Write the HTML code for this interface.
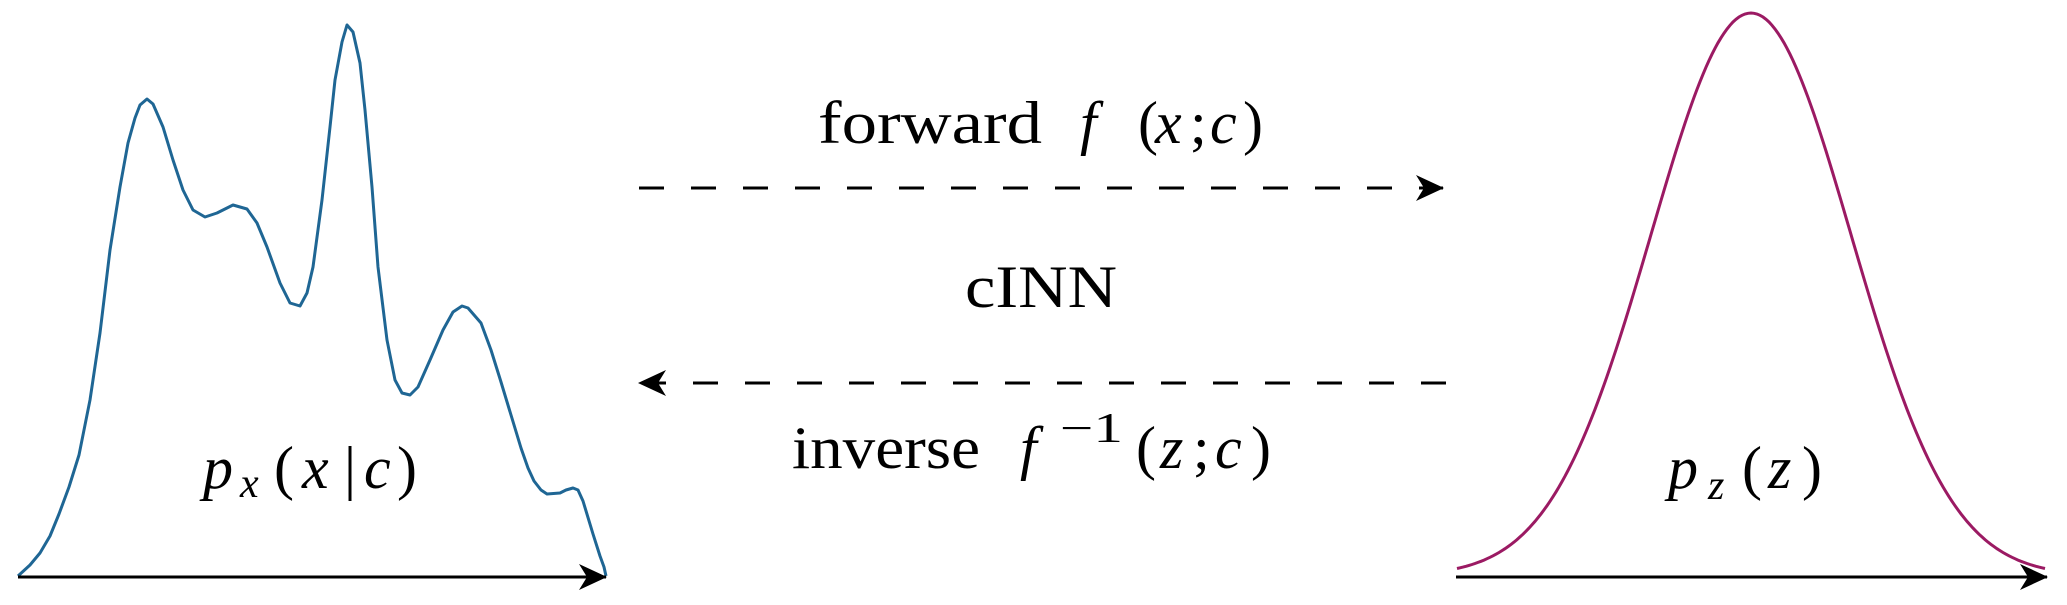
<!DOCTYPE html>
<html><head><meta charset="utf-8"><style>
html,body{margin:0;padding:0;background:#fff;width:2067px;height:605px;overflow:hidden}
text{font-family:"Liberation Serif",serif;fill:#000}
.m{font-style:italic}
</style></head><body>
<svg width="2067" height="605" viewBox="0 0 2067 605" xmlns="http://www.w3.org/2000/svg">
<defs>
<marker id="ah" viewBox="0 0 28 26" refX="27" refY="13" markerWidth="28" markerHeight="26" markerUnits="userSpaceOnUse" orient="auto">
<path d="M0,0 L28,13 L0,26 L8,13 Z" fill="#000"/>
</marker>
</defs>
<polyline fill="none" stroke="#1f6694" stroke-width="3" stroke-linejoin="round" points="18,576 30,565 40,553 50,536 59,514 69,487 79,455 90,400 100,333 110,250 120,187 128,143 135,118 140,105 147,99 153,104 163,127 173,160 183,190 193,210 205,217 217,213 233,205 247,209 257,223 267,247 280,283 290,303 300,306 307,293 313,267 322,200 330,127 335,80 342,42 347,25 353,32 360,63 365,110 372,187 378,267 387,340 395,380 402,393 410,395 418,387 430,360 443,330 453,312 462,306 468,308 481,323 491,350 501,382 511,415 521,448 528,468 534,481 541,490 547,494 560,493 566,490 573,488 578,490 583,501 593,534 600,556 604,567 606,576"/>
<line x1="18" y1="577" x2="606" y2="577" stroke="#000" stroke-width="3" marker-end="url(#ah)"/>
<path id="g" fill="none" stroke="#9b1a63" stroke-width="3"/>
<line x1="1456" y1="577" x2="2047" y2="577" stroke="#000" stroke-width="3" marker-end="url(#ah)"/>
<line x1="639" y1="188" x2="1443" y2="188" stroke="#000" stroke-width="3" stroke-dasharray="25 27" marker-end="url(#ah)"/>
<line x1="1446" y1="383" x2="639" y2="383" stroke="#000" stroke-width="3" stroke-dasharray="25 27" marker-end="url(#ah)"/>
<text x="818" y="143" font-size="60" textLength="224" lengthAdjust="spacingAndGlyphs">forward</text>
<text x="1080" y="143" font-size="60" class="m">f</text>
<text x="1138" y="143" font-size="60">(</text>
<text x="1155" y="143" font-size="60" class="m">x</text>
<text x="1190" y="143" font-size="60">;</text>
<text x="1210" y="143" font-size="60" class="m">c</text>
<text x="1243" y="143" font-size="60">)</text>
<text x="965" y="307" font-size="60" textLength="152" lengthAdjust="spacingAndGlyphs">cINN</text>
<text x="792" y="468" font-size="60" textLength="188" lengthAdjust="spacingAndGlyphs">inverse</text>
<text x="1020" y="468" font-size="60" class="m">f</text>
<text x="1060" y="442" font-size="42" textLength="63" lengthAdjust="spacingAndGlyphs">−1</text>
<text x="1136" y="468" font-size="60">(</text>
<text x="1160" y="468" font-size="60" class="m">z</text>
<text x="1193" y="468" font-size="60">;</text>
<text x="1215" y="468" font-size="60" class="m">c</text>
<text x="1251" y="468" font-size="60">)</text>
<text x="203" y="488" font-size="60" class="m">p</text>
<text x="240" y="497" font-size="42" class="m">x</text>
<text x="274" y="488" font-size="60">(</text>
<text x="302" y="488" font-size="60" class="m">x</text>
<text x="344" y="488" font-size="60">|</text>
<text x="364" y="488" font-size="60" class="m">c</text>
<text x="397" y="488" font-size="60">)</text>
<text x="1668" y="488" font-size="60" class="m">p</text>
<text x="1708" y="499" font-size="42" class="m">z</text>
<text x="1742" y="488" font-size="60">(</text>
<text x="1768" y="488" font-size="60" class="m">z</text>
<text x="1802" y="488" font-size="60">)</text>
</svg>
<script>
var d="";for(var x=1457;x<=2046;x+=3){var y=576-563*Math.exp(-Math.pow(x-1751,2)/(2*100*100));d+=(x==1457?"M":"L")+x+","+y.toFixed(1);}
document.getElementById("g").setAttribute("d",d);
</script>
</body></html>
